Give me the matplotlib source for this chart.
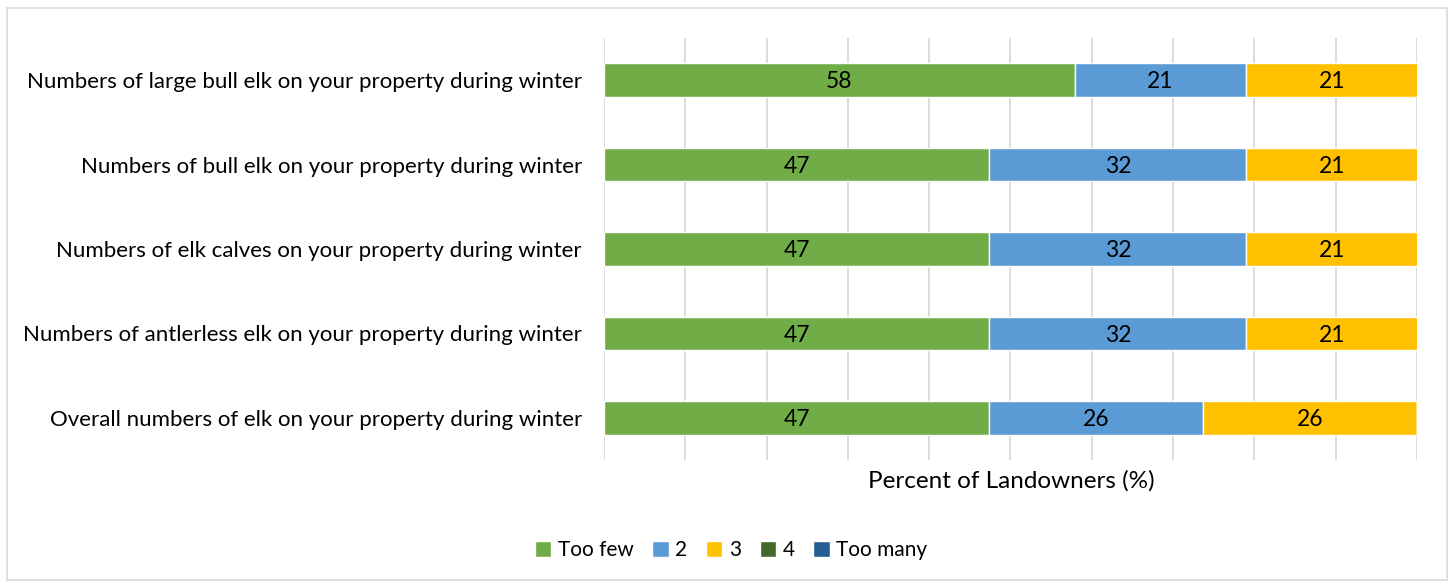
import numpy as np
import matplotlib.pyplot as plt
from matplotlib.patches import Rectangle

# Data (bottom to top)
questions = [
    "Overall numbers of elk on your property during winter",
    "Numbers of antlerless elk on your property during winter",
    "Numbers of elk calves on your property during winter",
    "Numbers of bull elk on your property during winter",
    "Numbers of large bull elk on your property during winter",
]
series_names = ["Too few", "2", "3", "4", "Too many"]
too_few = [47.4, 47.4, 47.4, 47.4, 57.9]
two = [26.3, 31.6, 31.6, 31.6, 21.1]
three = [26.3, 21.1, 21.1, 21.1, 21.1]
four = [0, 0, 0, 0, 0]
too_many = [0, 0, 0, 0, 0]

colors = ["#70AD47", "#5B9BD5", "#FFC000", "#43682B", "#255E91"]

plt.rcParams["font.family"] = ["Lato", "DejaVu Sans"]

fig = plt.figure(figsize=(14.5, 5.86), dpi=100)
ax = fig.add_axes([604/1450, 1-460/586, (1417-604)/1450, (460-38)/586])

y = np.arange(len(questions))
left = np.zeros(len(questions))
for name, vals, c in zip(series_names, [too_few, two, three, four, too_many], colors):
    vals = np.array(vals, dtype=float)
    bars = ax.barh(y, vals, left=left, height=0.4, color=c,
                   edgecolor="white", linewidth=1, label=name, zorder=3)
    for b, v in zip(bars, vals):
        if v > 0:
            ax.text(b.get_x() + b.get_width()/2, b.get_y() + b.get_height()/2 - 0.02,
                    f"{v:.0f}", ha="center", va="center", fontsize=16.5,
                    color="black", zorder=4)
    left += vals

ax.set_xlim(0, 100)
ax.set_ylim(-0.5, 4.5)
ax.set_xticks(np.arange(0, 101, 10))
ax.tick_params(axis="x", length=0, labelbottom=False)
ax.set_yticks(y)
ax.set_yticklabels(questions, fontsize=16)
ax.tick_params(axis="y", length=0, pad=16)
ax.grid(axis="x", color="#D9D9D9", linewidth=1.3, zorder=0)
for s in ax.spines.values():
    s.set_visible(False)

fig.text(1011/1450, 1-481/586, "Percent of Landowners (%)", ha="center",
         va="center", fontsize=17.5)

fig.legend(loc="center", bbox_to_anchor=(731/1450, 1-550/586), ncol=5,
           frameon=False, fontsize=15, handlelength=0.8, handleheight=0.8,
           handletextpad=0.3, columnspacing=0.9)

fig.patches.append(Rectangle((7/1450, 6/586), 1440/1450, 572/586,
                             transform=fig.transFigure, fill=False,
                             edgecolor="#D9D9D9", linewidth=1.2))

fig.savefig("out.png", dpi=100)
